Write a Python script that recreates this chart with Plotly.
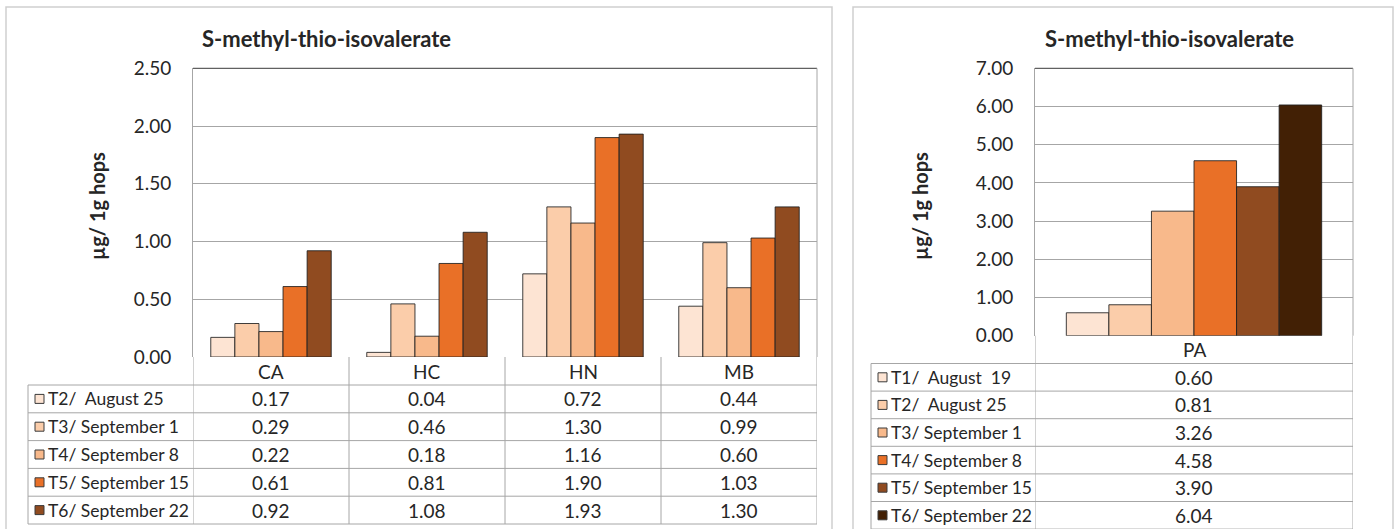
import plotly.graph_objects as go

W, H = 1396, 529

# ---- data -------------------------------------------------------------
title = "S-methyl-thio-isovalerate"
y_title = "µg/ 1g hops"

cultivars_left = ["CA", "HC", "HN", "MB"]
series_left = ["T2/  August 25", "T3/ September 1", "T4/ September 8",
               "T5/ September 15", "T6/ September 22"]
t2_left = [0.17, 0.04, 0.72, 0.44]
t3_left = [0.29, 0.46, 1.30, 0.99]
t4_left = [0.22, 0.18, 1.16, 0.60]
t5_left = [0.61, 0.81, 1.90, 1.03]
t6_left = [0.92, 1.08, 1.93, 1.30]
values_left = [t2_left, t3_left, t4_left, t5_left, t6_left]
colors_left = ["#FDE4D3", "#FBCDAA", "#F8B98B", "#E97027", "#904B20"]

cultivars_right = ["PA"]
series_right = ["T1/  August  19", "T2/  August 25", "T3/ September 1",
                "T4/ September 8", "T5/ September 15", "T6/ September 22"]
t1_right = [0.60]
t2_right = [0.81]
t3_right = [3.26]
t4_right = [4.58]
t5_right = [3.90]
t6_right = [6.04]
values_right = [t1_right, t2_right, t3_right, t4_right, t5_right, t6_right]
colors_right = ["#FDE4D3", "#FBCDAA", "#F8B98B", "#E97027", "#904B20", "#422005"]

ticks_left = [0.0, 0.5, 1.0, 1.5, 2.0, 2.5]
ticks_right = [0, 1, 2, 3, 4, 5, 6, 7]

# ---- layout helpers ---------------------------------------------------
FONT = "Lato, 'Open Sans', sans-serif"
TXT = "#262626"
GRID = "#A6A6A6"
FRAME = "#CFCFCF"


def px(x):
    return x / W


def py(y):
    return 1 - y / H


shapes = []
annotations = []


def hline(x0, x1, y, color=GRID, width=1):
    shapes.append(dict(type="line", xref="paper", yref="paper",
                       x0=px(x0), x1=px(x1), y0=py(y), y1=py(y),
                       line=dict(color=color, width=width)))


def vline(x, y0, y1, color=GRID, width=1, xref="paper"):
    shapes.append(dict(type="line", xref=xref, yref="paper",
                       x0=x if xref != "paper" else px(x),
                       x1=x if xref != "paper" else px(x),
                       y0=py(y0), y1=py(y1),
                       line=dict(color=color, width=width)))


def text(x, y, s, size=19, bold=False, xanchor="center", xref="paper", angle=0):
    annotations.append(dict(
        xref=xref, yref="paper",
        x=x if xref != "paper" else px(x), y=py(y),
        text=f"<b>{s}</b>" if bold else s, showarrow=False,
        xanchor=xanchor, yanchor="middle", textangle=angle,
        font=dict(family=FONT, size=size, color=TXT)))


fig = go.Figure()

panels = [
    dict(xa="x", ya="y", cats=cultivars_left, names=series_left, vals=values_left,
         colors=colors_left, gap=0.228, plot=(193, 817, 68.3, 357), ticks=ticks_left,
         yrange=[0, 2.5], frame=(6, 832), table_left=28, row0=385, row_h=27.8,
         title_x=326.5, ytitle_x=97),
    dict(xa="x2", ya="y2", cats=cultivars_right, names=series_right, vals=values_right,
         colors=colors_right, gap=0.197, plot=(1035, 1353, 68.3, 335.7), ticks=ticks_right,
         yrange=[0, 7], frame=(853, 1393), table_left=871, row0=363.5, row_h=27.6,
         title_x=1169, ytitle_x=920),
]

for p in panels:
    n = len(p["names"])
    w = (1 - p["gap"]) / n
    for i, (name, vals, col) in enumerate(zip(p["names"], p["vals"], p["colors"])):
        fig.add_trace(go.Bar(
            x=p["cats"], y=vals, name=name, xaxis=p["xa"], yaxis=p["ya"],
            width=w, offset=-(1 - p["gap"]) / 2 + i * w,
            marker=dict(color=col, line=dict(color="rgba(30,30,30,0.85)", width=1)),
            showlegend=False))

    x0, x1, y0, y1 = p["plot"]
    f0, f1 = p["frame"]
    # chart frame (runs off the bottom edge)
    shapes.append(dict(type="rect", xref="paper", yref="paper",
                       x0=px(f0), x1=px(f1), y0=py(7), y1=py(540),
                       line=dict(color=FRAME, width=1.5), layer="below"))
    # plot area edges
    hline(x0, x1, y0, color="#3A3A3A")
    vline(x1, y0, y1, color=GRID)

    # data table
    tl = p["table_left"]
    r0, rh = p["row0"], p["row_h"]
    nrows = len(p["names"])
    bottom = r0 + nrows * rh
    for k in range(nrows + 1):
        hline(tl, x1, r0 + k * rh)
    vline(tl, r0, bottom)
    ncat = len(p["cats"])
    for c in range(ncat + 1):
        vline(c - 0.5, y1, bottom, xref=p["xa"])
    for c, cat in enumerate(p["cats"]):
        text(cat, (y1 + r0) / 2, cat, xref=p["xa"])
    for k, (name, vals, col) in enumerate(zip(p["names"], p["vals"], p["colors"])):
        yc = r0 + (k + 0.5) * rh
        shapes.append(dict(type="rect", xref="paper", yref="paper",
                           x0=px(tl + 7), x1=px(tl + 16), y0=py(yc - 4.5), y1=py(yc + 4.5),
                           fillcolor=col, line=dict(color="#3A3A3A", width=1)))
        text(tl + 18, yc, name, size=17.5, xanchor="left")
        for c, v in enumerate(vals):
            text(p["cats"][c], yc, f"{v:.2f}", xref=p["xa"])

    # titles
    text(p["title_x"], 38, title, size=22, bold=True)
    text(p["ytitle_x"], 206, y_title, size=20, bold=True, angle=-90)

axis_common = dict(showgrid=False, zeroline=False, ticks="", fixedrange=True,
                   automargin=False)
yaxis_common = dict(showgrid=True, gridcolor=GRID, gridwidth=1, zeroline=False,
                    showline=True, linecolor=GRID, linewidth=1, ticks="",
                    ticklabelstandoff=17, tickformat=".2f", automargin=False,
                    tickfont=dict(family=FONT, size=19, color=TXT), fixedrange=True)

L, R = panels
fig.update_layout(
    width=W, height=H, margin=dict(l=0, r=0, t=0, b=0, autoexpand=False),
    paper_bgcolor="white", plot_bgcolor="white",
    barmode="overlay",
    xaxis=dict(domain=[px(L["plot"][0]), px(L["plot"][1])], range=[-0.5, 3.5],
               showticklabels=False, **axis_common),
    yaxis=dict(domain=[py(L["plot"][3]), py(L["plot"][2])], range=L["yrange"],
               tickvals=L["ticks"], **yaxis_common),
    xaxis2=dict(domain=[px(R["plot"][0]), px(R["plot"][1])], range=[-0.5, 0.5],
                showticklabels=False, anchor="y2", **axis_common),
    yaxis2=dict(domain=[py(R["plot"][3]), py(R["plot"][2])], range=R["yrange"],
                tickvals=R["ticks"], anchor="x2", **yaxis_common),
    shapes=shapes, annotations=annotations,
)

fig.write_html("out.html")
